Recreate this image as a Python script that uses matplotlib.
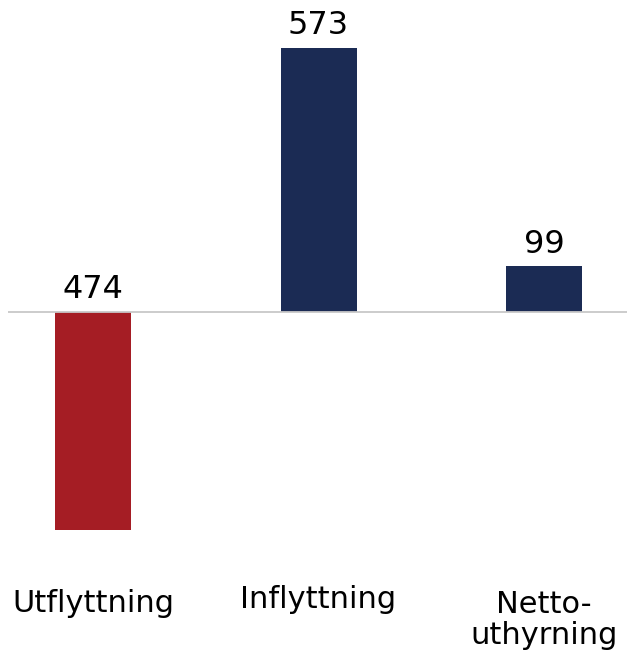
import numpy as np
from matplotlib import pyplot as plt
import matplotlib.transforms as mtransforms

categories = ["Utflyttning", "Inflyttning", "Netto-\nuthyrning"]
values = [-474, 573, 99]
value_labels = ["474", "573", "99"]
colors = ["#A51D24", "#1B2B54", "#1B2B54"]

W, H, DPI = 627, 654, 100
fig = plt.figure(figsize=(W / DPI, H / DPI), dpi=DPI)

# axes spans from x=8px to the right edge, full height
ax = fig.add_axes([8 / W, 0, 1 - 8 / W, 1])

px_per_unit = 0.46
base_px = 312  # zero line, pixels from top
ax.set_ylim(-(H - base_px) / px_per_unit, base_px / px_per_unit)
ax.set_xlim(-85 / 225.5, 2 + 83 / 225.5)

x = np.arange(len(categories))
ax.bar(x, values, width=76 / 225.5, color=colors, zorder=2)
ax.axhline(0, color="#C8C8C8", lw=1.3, zorder=3)

# value labels sit above the bar top (or above the zero line for negatives)
for xi, v, lab in zip(x, values, value_labels):
    ax.annotate(lab, (xi, max(v, 0)), xytext=(0, 5), textcoords="offset points",
                ha="center", va="bottom", fontsize=23, color="black")

# category labels below the chart
trans = mtransforms.blended_transform_factory(ax.transData, fig.transFigure)
label_y = [604, 600, 620]
for xi, cat, ly in zip(x, categories, label_y):
    ax.text(xi, 1 - ly / H, cat, transform=trans, ha="center", va="center",
            fontsize=22, linespacing=1.05)

ax.axis("off")
fig.savefig("out.png", dpi=DPI)
